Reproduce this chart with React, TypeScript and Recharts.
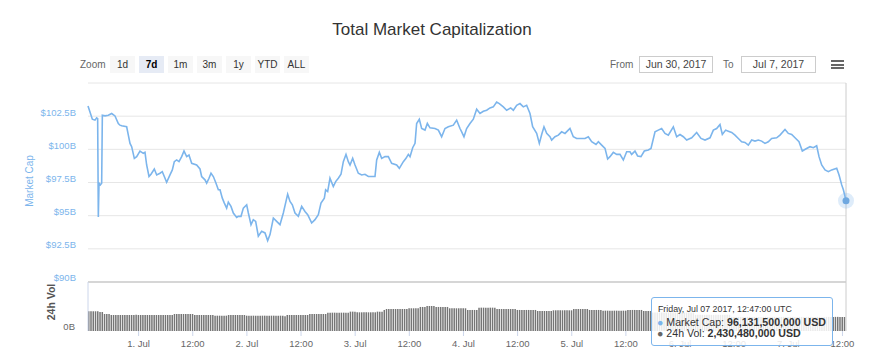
import React from 'react'
import { LineChart, Line, BarChart, Bar, XAxis, YAxis, CartesianGrid, ReferenceLine } from 'recharts'

const FONT = "'Liberation Sans', Arial, sans-serif"
const START = Date.UTC(2017, 5, 30, 12, 47)
const HOUR = 3600000
const END = START + 168 * HOUR

// market cap, billions USD; hours after Jun 30 12:47 UTC
const capHours = [
  0, 0.44, 0.96, 1.55, 1.92, 2.14, 2.29, 2.44, 2.73, 3.03, 3.18, 3.77, 4.51, 5.25, 5.98, 6.72, 7.09, 7.46, 8.57, 8.94,
  9.31, 9.68, 10.27, 10.79, 11.52, 12.26, 12.63, 13.0, 13.52, 13.96, 14.7, 15.22, 15.96, 16.47, 17.07, 17.43, 18.17, 18.69, 19.13, 19.65,
  20.17, 20.76, 21.28, 21.87, 22.38, 22.98, 24.08, 24.82, 25.19, 25.93, 26.3, 26.82, 27.26, 27.78, 28.29, 28.89, 29.26, 29.77, 30.22, 30.73,
  31.1, 31.69, 32.21, 32.95, 33.32, 33.91, 34.43, 35.17, 35.54, 36.13, 36.64, 37.16, 37.75, 38.49, 39.23, 39.82, 40.34, 41.08, 41.81, 42.55,
  43.29, 44.25, 44.77, 45.29, 45.88, 46.62, 47.36, 48.09, 48.69, 49.57, 50.31, 51.05, 51.64, 52.38, 52.67, 53.12, 53.63, 54.37, 54.89, 55.48,
  56.07, 56.59, 57.18, 57.7, 58.07, 58.66, 59.18, 59.91, 60.65, 61.39, 62.13, 63.24, 63.61, 63.98, 64.57, 65.09, 65.83, 66.56, 67.3, 68.41,
  69.0, 69.89, 70.48, 71.0, 71.37, 71.96, 72.48, 72.84, 73.43, 73.95, 74.69, 75.21, 75.8, 76.91, 77.65, 78.38, 79.12, 79.86, 80.97, 81.71,
  82.45, 82.82, 83.33, 83.92, 84.66, 85.4, 86.14, 86.88, 87.62, 88.36, 89.1, 89.83, 90.57, 91.16, 92.05, 92.79, 93.68, 94.27, 95.01, 95.74,
  96.48, 97.22, 97.96, 98.55, 99.44, 100.03, 100.55, 101.06, 101.66, 102.39, 102.76, 103.5, 104.24, 104.98, 105.72, 106.82, 107.56, 108.3, 109.04, 110.15,
  110.89, 111.63, 112.59, 113.11, 113.85, 114.59, 115.17, 115.69, 116.43, 117.17, 117.91, 118.65, 119.39, 120.12, 120.49, 121.23, 121.82, 122.56, 123.3, 124.19,
  124.78, 125.67, 126.4, 127.14, 127.88, 128.62, 129.73, 130.47, 131.21, 131.95, 132.69, 133.8, 134.9, 135.86, 136.75, 137.86, 138.6, 139.33, 140.07, 140.59,
  141.33, 141.92, 142.66, 143.4, 144.14, 144.87, 145.61, 146.35, 147.09, 147.83, 148.57, 149.31, 150.04, 150.78, 151.52, 152.63, 153.37, 154.48, 155.22, 155.96,
  156.7, 157.58, 158.32, 159.06, 160.02, 160.76, 161.5, 162.02, 162.61, 163.35, 164.09, 164.83, 165.94, 166.46, 167.05, 167.42, 168,
]
const capValues = [
  103.27, 102.82, 102.27, 102.2, 102.37, 102.32, 94.9, 97.45, 97.32, 97.45, 102.57, 102.52, 102.57, 102.7, 102.52, 101.95, 101.82, 101.77, 101.7, 101.07,
  100.45, 100.2, 99.32, 99.45, 99.87, 99.7, 99.77, 98.82, 97.95, 98.12, 98.52, 98.07, 98.2, 98.32, 97.82, 97.52, 98.07, 98.45, 99.07, 99.2,
  99.07, 99.45, 99.87, 99.45, 99.57, 98.95, 98.82, 98.52, 97.95, 97.7, 97.45, 97.82, 98.2, 97.95, 97.52, 96.95, 96.95, 96.32, 95.95, 95.57,
  96.02, 95.7, 95.2, 94.87, 94.95, 94.95, 95.57, 95.82, 95.2, 94.32, 94.7, 94.57, 93.45, 93.82, 93.7, 93.12, 93.57, 94.82, 94.57, 94.32,
  95.2, 96.62, 96.07, 95.82, 95.2, 94.95, 95.7, 95.32, 95.07, 94.45, 94.7, 95.07, 95.95, 96.32, 96.95, 96.82, 97.82, 97.2, 97.57, 97.82,
  98.12, 99.07, 99.62, 99.07, 98.82, 99.32, 98.82, 98.2, 98.07, 98.12, 97.95, 97.95, 97.95, 99.2, 99.77, 99.32, 99.45, 99.45, 98.95, 98.82,
  98.57, 99.07, 99.32, 99.62, 99.45, 100.12, 100.45, 101.95, 102.27, 101.57, 101.45, 101.95, 101.62, 101.57, 101.45, 100.95, 101.57, 101.7, 101.82, 102.2,
  101.57, 101.32, 100.95, 101.57, 101.95, 102.27, 103.02, 102.7, 102.87, 102.95, 103.12, 103.2, 103.57, 103.45, 103.2, 102.95, 103.12, 102.95, 103.32, 103.45,
  103.2, 103.32, 102.7, 101.7, 101.2, 100.45, 101.12, 101.7, 101.2, 100.95, 100.7, 100.95, 101.07, 101.32, 101.2, 101.57, 100.95, 100.82, 100.82, 100.82,
  100.95, 100.57, 100.37, 100.57, 100.32, 100.07, 99.27, 99.45, 99.77, 99.62, 99.62, 99.2, 99.82, 99.82, 99.62, 99.87, 99.5, 99.45, 99.87, 99.95,
  100.07, 101.32, 101.45, 101.57, 101.2, 101.07, 101.7, 100.95, 101.12, 100.95, 100.7, 100.87, 101.27, 100.82, 100.7, 100.87, 101.45, 101.57, 101.87, 101.12,
  101.45, 101.37, 101.27, 101.07, 100.82, 100.57, 100.52, 100.32, 100.7, 100.62, 100.7, 100.62, 100.45, 100.57, 100.82, 100.87, 101.07, 101.5, 101.2, 101.12,
  100.87, 100.57, 99.87, 100.02, 100.2, 100.12, 100.27, 99.45, 98.82, 98.45, 98.32, 98.45, 98.57, 98.07, 97.32, 96.95, 96.1315,
]

// 24h volume, billions USD, one bar per half hour
const volValues = [
  3.42, 3.42, 3.42, 3.42, 3.42, 3.3, 3.3, 2.95, 2.95, 2.95,
  2.78, 2.78, 2.78, 2.78, 2.78, 2.78, 2.78, 2.78, 2.78, 2.78, 2.78, 2.84,
  2.78, 2.78, 2.78, 2.78, 2.78, 2.78, 2.78, 2.78, 2.78, 2.78, 2.78, 2.78, 2.78, 2.78, 2.78, 2.78,
  2.95, 2.95, 2.95, 2.95, 2.95, 2.95, 2.95, 2.95, 2.95,
  2.78, 2.78, 2.78, 2.78, 2.78, 2.78, 2.78, 2.78, 2.78,
  2.66, 2.66, 2.66, 2.66, 2.66, 2.66,
  2.78, 2.78, 2.78, 2.78, 2.78, 2.78, 2.78, 2.78,
  2.66, 2.66, 2.66, 2.66, 2.66, 2.66, 2.66, 2.66, 2.66, 2.66, 2.66, 2.66, 2.66, 2.66, 2.66, 2.66, 2.66, 2.55,
  2.78, 2.78, 2.78, 2.78, 2.78, 2.78, 2.78, 2.78, 2.78, 2.78,
  2.95, 2.95, 2.95, 2.95, 2.95, 2.95, 2.95, 2.95,
  3.18, 3.18, 3.18, 3.18, 3.18, 3.18, 3.18, 3.18, 3.18, 3.18,
  3.36, 3.36, 3.36, 3.24, 3.24, 3.24, 3.24, 3.24, 3.24, 3.24, 3.24, 3.24,
  3.36, 3.36, 3.36, 3.65,
  3.82, 3.82, 3.82, 3.82, 3.82, 3.82, 3.82, 3.82, 3.82, 3.82,
  3.94, 3.94, 3.94, 3.94, 3.94, 4.17, 4.17, 4.17, 4.34, 4.34, 4.34, 4.34,
  4.17, 4.17, 4.17, 4.17, 4.17, 4.17,
  3.94, 3.94, 3.94, 3.94, 3.94, 3.94, 3.94, 3.94,
  3.65, 3.65, 3.65, 3.65, 3.65,
  4.05, 4.05, 4.05, 4.05, 4.05, 4.05, 4.05, 4.05,
  3.82, 3.82, 3.82, 3.82, 3.82, 3.82, 3.82, 3.82, 3.82,
  3.65, 3.65, 3.65, 3.65, 3.65, 3.65, 3.65, 3.65, 3.65,
  3.47, 3.47, 3.47, 3.47, 3.47, 3.47, 3.47,
  3.59, 3.59, 3.59, 3.59, 3.59, 3.59, 3.59, 3.59, 3.59,
  3.82, 3.82, 3.82, 3.82, 3.82, 3.82, 3.82,
  3.65, 3.65, 3.65, 3.65, 3.65, 3.65,
  3.53, 3.53, 3.53, 3.53, 3.53, 3.53, 3.53, 3.53, 3.53, 3.53, 3.53,
  3.65, 3.65, 3.65, 3.65, 3.65, 3.65, 3.65,
  3.47, 3.47, 3.47, 3.47,
  3.2, 3.2, 3.2, 3.2, 3.2, 3.2, 3.2, 3.2, 3.2, 3.2, 3.2, 3.2, 3.2, 3.2, 3.2, 3.2, 3.2, 3.2, 3.2,
  2.8, 2.8, 2.8, 2.8, 2.8, 2.8, 2.8, 2.8, 2.8, 2.8, 2.8, 2.8, 2.8, 2.8, 2.8, 2.8,
  2.45, 2.45, 2.45, 2.45, 2.45, 2.45, 2.45, 2.45, 2.45, 2.45, 2.45, 2.45, 2.45, 2.45, 2.45, 2.45, 2.45,
  2.45, 2.45, 2.45, 2.45, 2.45, 2.45, 2.45, 2.45, 2.45, 2.45, 2.45, 2.45, 2.45, 2.45, 2.45, 2.45, 2.45,
  2.45, 2.45, 2.45, 2.45, 2.45, 2.45, 2.45, 2.45, 2.45, 2.45, 2.45, 2.45, 2.45, 2.45, 2.45, 2.45, 2.43048,
]

const capTicks = [90, 92.5, 95, 97.5, 100, 102.5, 105]
const timeTicks = [
  Date.UTC(2017, 6, 1, 0), Date.UTC(2017, 6, 1, 12), Date.UTC(2017, 6, 2, 0), Date.UTC(2017, 6, 2, 12),
  Date.UTC(2017, 6, 3, 0), Date.UTC(2017, 6, 3, 12), Date.UTC(2017, 6, 4, 0), Date.UTC(2017, 6, 4, 12),
  Date.UTC(2017, 6, 5, 0), Date.UTC(2017, 6, 5, 12), Date.UTC(2017, 6, 6, 0), Date.UTC(2017, 6, 6, 12),
  Date.UTC(2017, 6, 7, 0), Date.UTC(2017, 6, 7, 12),
]
const zoomButtons = ['1d', '7d', '1m', '3m', '1y', 'YTD', 'ALL']
const selectedZoom = '7d'

const capData = capHours.map((h, i) => ({ t: START + h * HOUR, cap: capValues[i] }))
const volData = volValues.map((v, i) => ({ t: START + (i * 0.5 + 0.25) * HOUR, vol: v }))

const fmtTime = (t: number) => {
  const d = new Date(t)
  return d.getUTCHours() === 0 ? `${d.getUTCDate()}. Jul` : '12:00'
}

const CapTick = (props: any) => {
  const { x, y, payload } = props
  if (payload.value === 105) return <g />
  return (
    <text x={x} y={y - 4} dy="0.355em" textAnchor="end" fill="#7cb5ec" fontSize={9.5} fontFamily={FONT}>
      ${payload.value}B
    </text>
  )
}

const VolTick = (props: any) => {
  const { x, y, payload } = props
  return (
    <text x={x} y={y - 4} dy="0.355em" textAnchor="end" fill="#666" fontSize={9.5} fontFamily={FONT}>
      {payload.value}B
    </text>
  )
}

const lastIdx = capData.length - 1
const EndDot = (props: any) => {
  const { cx, cy, index } = props
  if (index !== lastIdx) return <g key={index} />
  return (
    <g key={index}>
      <circle cx={cx} cy={cy} r={8} fill="#7cb5ec" fillOpacity={0.25} />
      <circle cx={cx} cy={cy} r={3.5} fill="#6fa8e0" />
    </g>
  )
}

const lastCap = Math.round(capValues[lastIdx] * 1e9).toLocaleString('en-US')
const lastVol = Math.round(volValues[volValues.length - 1] * 1e9).toLocaleString('en-US')

const abs = (left: number, top: number, extra: React.CSSProperties = {}): React.CSSProperties => ({
  position: 'absolute', left, top, ...extra,
})

export default function App() {
  return (
    <div style={{ position: 'absolute', left: 0, top: 0, width: 886, height: 363, background: '#fff', fontFamily: FONT, overflow: 'hidden' }}>
      <div style={abs(0, 20, { width: 864, textAlign: 'center', fontSize: 17, lineHeight: '20px', color: '#333' })}>
        Total Market Capitalization
      </div>

      <div style={abs(80, 57, { fontSize: 10, lineHeight: '15px', color: '#666' })}>Zoom</div>
      {zoomButtons.map((b, i) => (
        <div
          key={b}
          style={abs(110 + i * 29, 56, {
            width: 25, height: 17, lineHeight: '17px', textAlign: 'center', fontSize: 10,
            background: b === selectedZoom ? '#e6ebf5' : '#f7f7f7',
            color: b === selectedZoom ? '#000' : '#333', fontWeight: b === selectedZoom ? 'bold' : 'normal',
          })}
        >
          {b}
        </div>
      ))}

      <div style={abs(610, 57, { fontSize: 10, lineHeight: '15px', color: '#666' })}>From</div>
      <div style={abs(639, 56, { width: 74, height: 17, boxSizing: 'border-box', border: '1px solid #ccc', fontSize: 10.5, lineHeight: '15px', textAlign: 'center', color: '#444' })}>
        Jun 30, 2017
      </div>
      <div style={abs(723, 57, { fontSize: 10, lineHeight: '15px', color: '#666' })}>To</div>
      <div style={abs(741, 56, { width: 75, height: 17, boxSizing: 'border-box', border: '1px solid #ccc', fontSize: 10.5, lineHeight: '15px', textAlign: 'center', color: '#444' })}>
        Jul 7, 2017
      </div>
      {[60, 63.7, 67.4].map(y => (
        <div key={y} style={abs(831, y, { width: 13, height: 2, background: '#666' })} />
      ))}

      <div style={abs(0, 0)}>
        <LineChart width={886} height={300} data={capData} margin={{ top: 83, right: 40, bottom: 18, left: 0 }}>
          <CartesianGrid vertical={false} stroke="#e6e6e6" />
          <XAxis dataKey="t" type="number" domain={[START, END]} hide />
          <YAxis
            domain={[90, 105]}
            ticks={capTicks}
            width={88}
            axisLine={false}
            tickLine={false}
            tickSize={0}
            tickMargin={12}
            tick={<CapTick />}
          />
          <ReferenceLine y={90} stroke="#cccccc" strokeWidth={1.5} />
          <ReferenceLine x={END} stroke="#cccccc" />
          <Line
            type="linear"
            dataKey="cap"
            stroke="#7cb5ec"
            strokeWidth={1.6}
            dot={<EndDot />}
            activeDot={false}
            isAnimationActive={false}
          />
        </LineChart>
      </div>

      <div style={abs(0, 282)}>
        <BarChart width={886} height={81} data={volData} margin={{ top: 0, right: 40, bottom: 0, left: 0 }} barCategoryGap={0}>
          <XAxis
            dataKey="t"
            type="number"
            domain={[START, END]}
            ticks={timeTicks}
            tickFormatter={fmtTime}
            height={32}
            axisLine={false}
            tickLine={{ stroke: '#ccd6eb' }}
            tickSize={5}
            tickMargin={4}
            tick={{ fill: '#666', fontSize: 9.5, fontFamily: FONT }}
          />
          <YAxis
            domain={[0, 8.5]}
            ticks={[0]}
            width={88}
            axisLine={{ stroke: '#ccd6eb' }}
            tickLine={false}
            tickSize={0}
            tickMargin={13}
            tick={<VolTick />}
          />
          <ReferenceLine x={END} stroke="#cccccc" />
          <Bar dataKey="vol" fill="#757575" barSize={1.5} isAnimationActive={false} />
        </BarChart>
      </div>

      <svg width={886} height={363} style={abs(0, 0, { pointerEvents: 'none' })}>
        <text x={29} y={181} transform="rotate(-90 29 181)" textAnchor="middle" dy="0.355em" fill="#7cb5ec" fontSize={10} fontFamily={FONT}>
          Market Cap
        </text>
        <text x={51} y={302} transform="rotate(-90 51 302)" textAnchor="middle" dy="0.355em" fill="#555" fontSize={10.5} fontWeight="bold" fontFamily={FONT}>
          24h Vol
        </text>
      </svg>

      <div style={abs(651, 297, { width: 182, height: 49, boxSizing: 'border-box', background: 'rgba(255,255,255,0.85)', border: '1px solid #7cb5ec', borderRadius: 3, color: '#333' })}>
        <div style={abs(6, 6, { fontSize: 8.8, lineHeight: '11px', whiteSpace: 'nowrap' })}>Friday, Jul 07 2017, 12:47:00 UTC</div>
        <div style={abs(5, 17.5, { fontSize: 10.6, lineHeight: '12px', whiteSpace: 'nowrap' })}>
          <span style={{ color: '#7cb5ec' }}>●</span> Market Cap: <b>{lastCap} USD</b>
        </div>
        <div style={abs(5, 29, { fontSize: 10.6, lineHeight: '12px', whiteSpace: 'nowrap' })}>
          <span style={{ color: '#666' }}>●</span> 24h Vol: <b>{lastVol} USD</b>
        </div>
      </div>
    </div>
  )
}
